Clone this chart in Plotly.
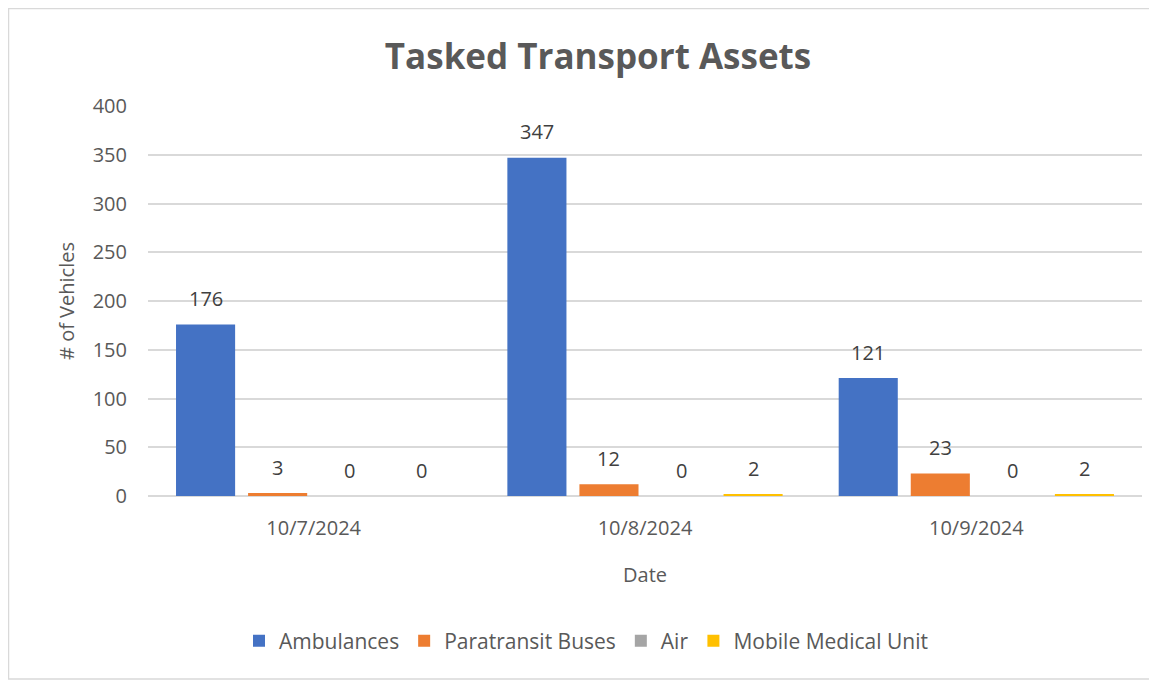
import plotly.graph_objects as go

dates = ["10/7/2024", "10/8/2024", "10/9/2024"]
series_names = ["Ambulances", "Paratransit Buses", "Air", "Mobile Medical Unit"]
ambulances = [176, 347, 121]
paratransit = [3, 12, 23]
air = [0, 0, 0]
mobile_medical = [0, 2, 2]
colors = ["#4472C4", "#ED7D31", "#A5A5A5", "#FFC000"]
y_ticks = [0, 50, 100, 150, 200, 250, 300, 350, 400]

FONT = "Open Sans, Noto Sans, sans-serif"
values = [ambulances, paratransit, air, mobile_medical]

# page body has an 8px margin; work in figure coordinates
W, H = 1149, 673
L, R, T, B = 140, 15, 98, 185
pw, ph = W - L - R, H - T - B
BARGAP, GROUPGAP = 0.13, 0.18
slot = pw / len(dates) * (1 - BARGAP) / len(series_names)

def px_x(p):
    return (p - L) / pw

def px_y(p):
    return (H - B - p) / ph

fig = go.Figure()
annotations = []
for i, (name, vals, col) in enumerate(zip(series_names, values, colors)):
    fig.add_trace(go.Bar(
        x=dates, y=vals, name=name,
        marker=dict(color=col, line=dict(width=0)),
    ))
    for d, v in zip(dates, vals):
        annotations.append(dict(
            x=d, y=v, xref="x", yref="y", text=str(v), showarrow=False,
            xshift=(i - (len(series_names) - 1) / 2) * slot, yshift=26,
            yanchor="middle", xanchor="center",
            font=dict(size=20, color="#404040", family=FONT),
        ))

fig.update_layout(
    width=W, height=H,
    margin=dict(l=L, r=R, t=T, b=B),
    paper_bgcolor="white", plot_bgcolor="white",
    barmode="group", bargap=BARGAP, bargroupgap=GROUPGAP,
    title=dict(text="<b>Tasked Transport Assets</b>", x=590 / W, xanchor="center",
               xref="container", y=1 - 49 / H, yanchor="middle",
               font=dict(size=35, color="#595959", family=FONT)),
    font=dict(family=FONT, color="#595959"),
    xaxis=dict(
        title=dict(text="Date", font=dict(size=20, color="#595959"), standoff=27),
        tickfont=dict(size=20, color="#595959"),
        showgrid=False, showline=False, ticks="", ticklabelstandoff=18,
    ),
    yaxis=dict(
        title=dict(text="# of Vehicles", font=dict(size=20, color="#595959"), standoff=12),
        range=[0, 400], tickvals=y_ticks,
        tickfont=dict(size=20, color="#595959"),
        showgrid=True, gridcolor="#D9D9D9", gridwidth=1.5,
        zeroline=True, zerolinecolor="#D9D9D9", zerolinewidth=1.5,
        showline=False, ticks="", ticklabelstandoff=20,
    ),
    legend=dict(orientation="h", x=px_x(578), xanchor="center",
                y=px_y(633), yanchor="middle",
                font=dict(size=21, color="#595959"), itemwidth=30,
                traceorder="normal"),
    annotations=annotations,
    shapes=[dict(type="rect", xref="paper", yref="paper",
                 x0=px_x(0.5), x1=px_x(1142), y0=px_y(671), y1=px_y(0.5),
                 line=dict(color="#D9D9D9", width=1.5), fillcolor="rgba(0,0,0,0)",
                 layer="below")],
)

fig.write_html("out.html")
